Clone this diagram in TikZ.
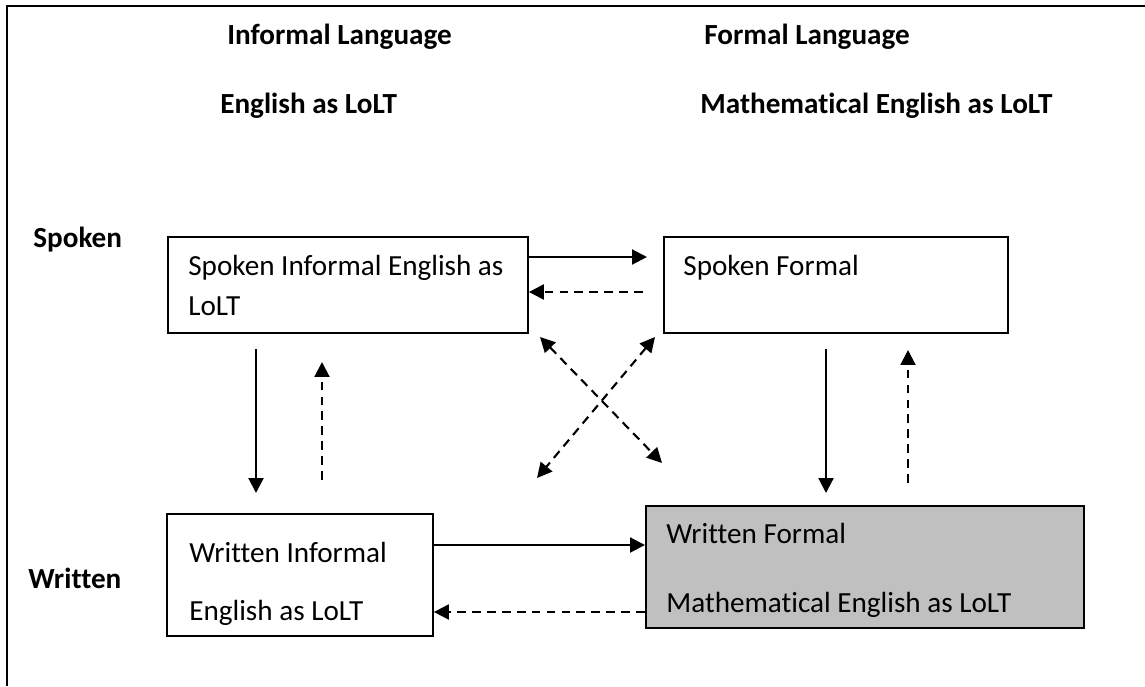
\documentclass[tikz,border=0pt]{standalone}
\usepackage{fontspec}
\setmainfont{Carlito}[Ligatures=NoCommon]
\usetikzlibrary{arrows.meta,calc}

\begin{document}
\begin{tikzpicture}[x=0.02cm,y=-0.02cm,
  box/.style={draw, line width=1.1pt, rectangle, inner sep=0pt, anchor=north west},
  txt/.style={anchor=base west, inner sep=0pt, font=\fontsize{16.6}{20}\selectfont},
  head/.style={txt, font=\fontsize{16.6}{20}\selectfont\bfseries},
  tip/.tip={Triangle[length=8.5pt,width=8.5pt]},
  arr/.style={line width=1.2pt, -tip},
  darr/.style={arr, dash pattern=on 5pt off 3.5pt},
  dbl/.style={line width=1.2pt, tip-tip, dash pattern=on 5pt off 3.5pt}
]
\useasboundingbox (0,0) rectangle (1145,686);

% outer frame (open on the right and bottom)
\draw[line width=1.5pt] (7,686) -- (7,6) -- (1145,6);

% column headings
\node[head] (h1) at (227,45) {Informal Language};
\node[head] (h2) at (220,113) {English as LoLT};
\node[head] (h3) at (704,45) {Formal Language};
\node[head] (h4) at (700,113) {Mathematical English as LoLT};

% row headings
\node[head] (r1) at (33,247) {Spoken};
\node[head] (r2) at (28,588) {Written};

% boxes
\node[box, minimum width=7.2cm, minimum height=1.92cm] (b1) at (167,236) {};
\node[box, minimum width=6.88cm, minimum height=1.92cm] (b2) at (663,236) {};
\node[box, minimum width=5.32cm, minimum height=2.44cm] (b3) at (166,513) {};
\node[box, fill={rgb,255:red,192;green,192;blue,192}, minimum width=8.76cm, minimum height=2.44cm] (b4) at (645,505) {};

% box texts
\node[txt] (t1a) at (188,275) {Spoken Informal English as};
\node[txt] (t1b) at (188,315) {LoLT};
\node[txt] (t2) at (683,275) {Spoken Formal};
\node[txt] (t3a) at (189,562) {Written Informal};
\node[txt] (t3b) at (189,620) {English as LoLT};
\node[txt] (t4a) at (666,543) {Written Formal};
\node[txt] (t4b) at (666,612) {Mathematical English as LoLT};

% free ends of the arrows
\coordinate (p1) at (647,257);
\coordinate (p2) at (643,292);
\coordinate (v1a) at (256,349);  \coordinate (v1b) at (256,493);
\coordinate (v2a) at (322,480);  \coordinate (v2b) at (322,362);
\coordinate (v3a) at (826,349);  \coordinate (v3b) at (826,493);
\coordinate (v4a) at (908,483);  \coordinate (v4b) at (908,350);
\coordinate (x1a) at (540,337);  \coordinate (x1b) at (662,463);
\coordinate (x2a) at (655,337);  \coordinate (x2b) at (537,478);

% spoken row
\draw[arr]  (b1.east |- p1) -- (p1);
\draw[darr] (p2) -- (b1.east |- p2);

% vertical links
\draw[arr]  (v1a) -- (v1b);
\draw[darr] (v2a) -- (v2b);
\draw[arr]  (v3a) -- (v3b);
\draw[darr] (v4a) -- (v4b);

% diagonal links
\draw[dbl] (x1a) -- (x1b);
\draw[dbl] (x2a) -- (x2b);

% written row
\coordinate (w1) at (0,545);
\coordinate (w2) at (0,612);
\draw[arr]  (b3.east |- w1) -- (b4.west |- w1);
\draw[darr] (b4.west |- w2) -- (b3.east |- w2);
\end{tikzpicture}
\end{document}
